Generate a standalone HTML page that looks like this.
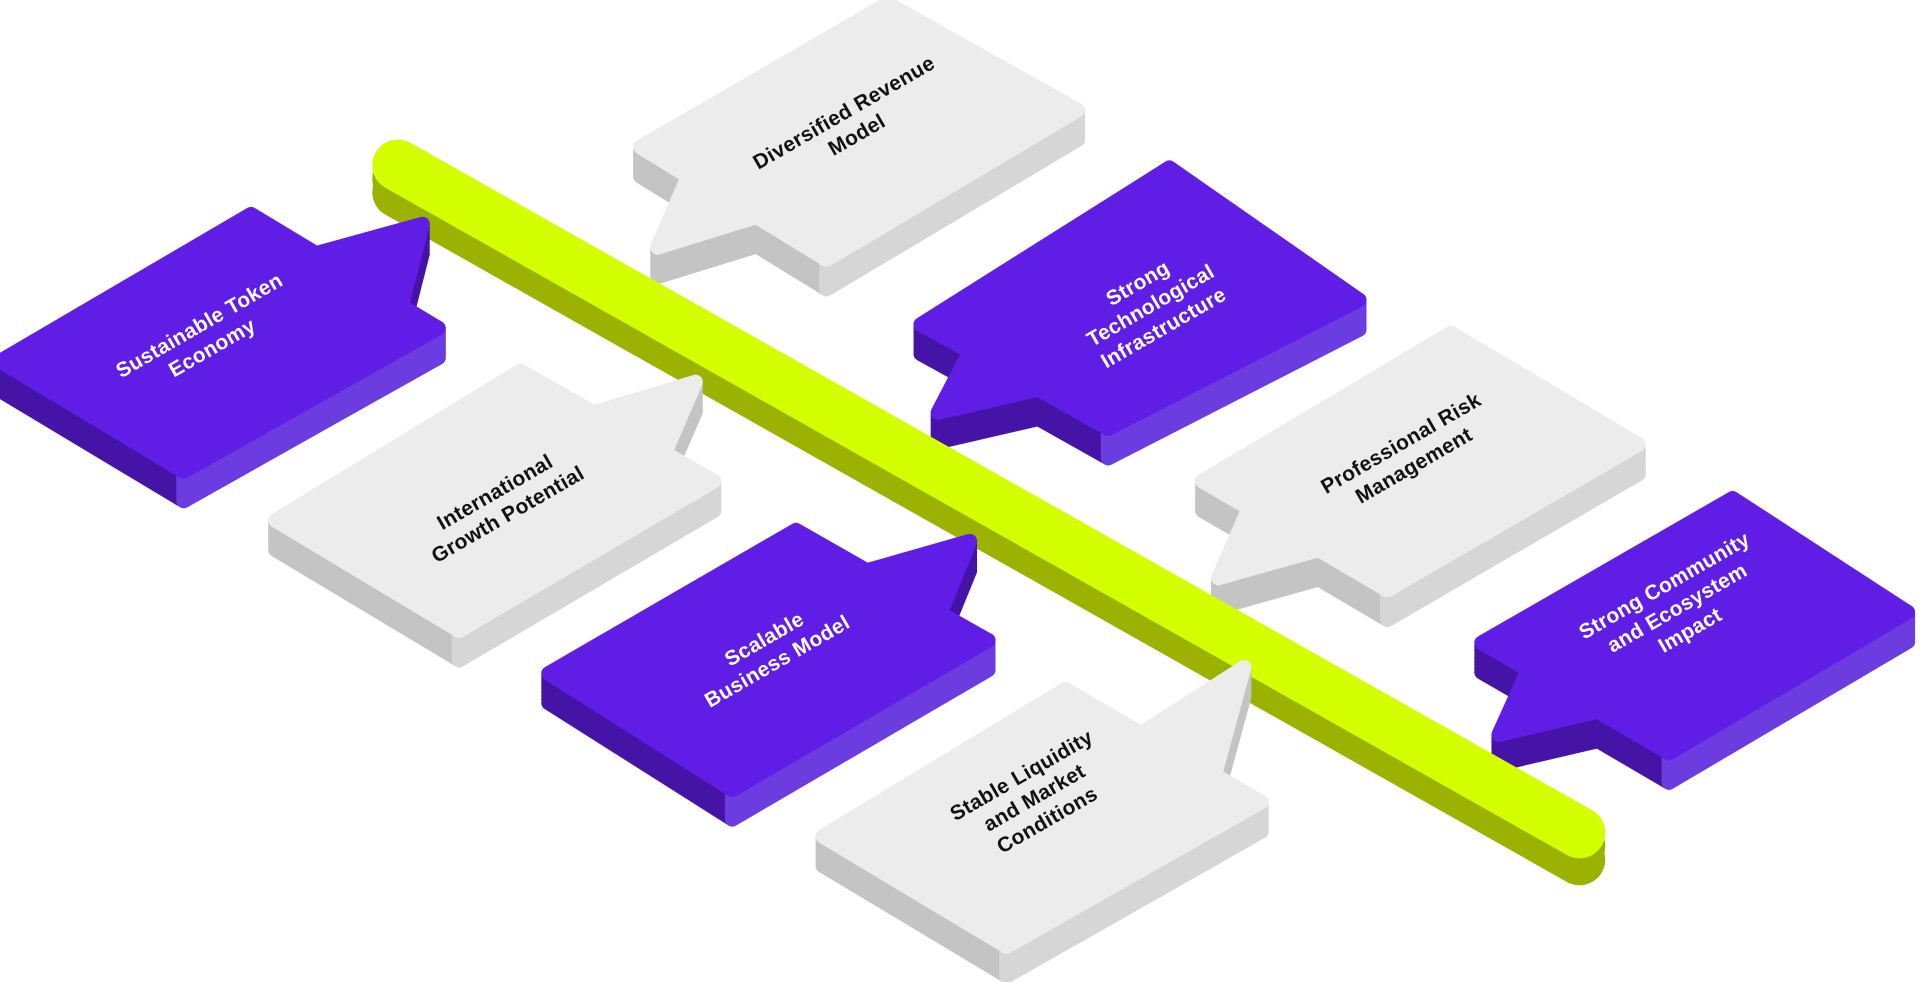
<!DOCTYPE html>
<html><head><meta charset="utf-8"><style>
html,body{margin:0;padding:0;background:#fff;width:1920px;height:982px;overflow:hidden}
svg{display:block}
text{font-family:"Liberation Sans",sans-serif;font-weight:bold;font-size:17px;letter-spacing:0.3px}
</style></head><body>
<svg width="1920" height="982" viewBox="0 0 1568 802" xmlns="http://www.w3.org/2000/svg">
<defs>
<polygon id="b1" points="0,295 205,175 258,207 345,183 328,250 358,268 150,385"/>
<polygon id="b2" points="225,425 425,303 485,337 568,312 543,370 583,393 375,515"/>
<polygon id="b3" points="448,550 650,433 708,466 792,442 768,501 807,523 598,645"/>
<polygon id="b4" points="672,683 870,563 932,599 1016,545 992,633 1030,655 822,773"/>
<polygon id="b5" points="523,120 562,144 537,202 618,177 675,212 880,90 725,3"/>
<polygon id="b6" points="752,265 792,287 766,337 848,318 905,350 1110,245 955,137"/>
<polygon id="b7" points="982,393 1020,415 995,472 1077,449 1133,482 1338,363 1185,272"/>
<polygon id="b8" points="1210,525 1248,547 1224,600 1305,581 1363,615 1558,500 1415,407"/>
<g id="sg"><use href="#S" y="24"/></g>
</defs>

<g stroke-linejoin="round" stroke-width="12">
<g fill="#c4c4c4" stroke="#c4c4c4"><use href="#b5" y="24"/><use href="#b5" y="21"/><use href="#b5" y="18"/><use href="#b5" y="15"/><use href="#b5" y="12"/><use href="#b5" y="9"/><use href="#b5" y="6"/><use href="#b5" y="3"/></g>
<polygon points="675,212 880,90 880,114 675,236" fill="#d6d6d6" stroke="#d6d6d6"/>
<use href="#b5" fill="#ececec" stroke="#ececec"/>

<g fill="#4514a6" stroke="#4514a6"><use href="#b6" y="24"/><use href="#b6" y="21"/><use href="#b6" y="18"/><use href="#b6" y="15"/><use href="#b6" y="12"/><use href="#b6" y="9"/><use href="#b6" y="6"/><use href="#b6" y="3"/></g>
<polygon points="905,350 1110,245 1110,269 905,374" fill="#6b3de0" stroke="#6b3de0"/>
<use href="#b6" fill="#5f1de6" stroke="#5f1de6"/>

<g fill="#c4c4c4" stroke="#c4c4c4"><use href="#b7" y="24"/><use href="#b7" y="21"/><use href="#b7" y="18"/><use href="#b7" y="15"/><use href="#b7" y="12"/><use href="#b7" y="9"/><use href="#b7" y="6"/><use href="#b7" y="3"/></g>
<polygon points="1133,482 1338,363 1338,387 1133,506" fill="#d6d6d6" stroke="#d6d6d6"/>
<use href="#b7" fill="#ececec" stroke="#ececec"/>

<g fill="#4514a6" stroke="#4514a6"><use href="#b8" y="24"/><use href="#b8" y="21"/><use href="#b8" y="18"/><use href="#b8" y="15"/><use href="#b8" y="12"/><use href="#b8" y="9"/><use href="#b8" y="6"/><use href="#b8" y="3"/></g>
<polygon points="1363,615 1558,500 1558,524 1363,639" fill="#6b3de0" stroke="#6b3de0"/>
<use href="#b8" fill="#5f1de6" stroke="#5f1de6"/>
</g>

<g stroke-linecap="round" fill="none">
<line x1="325" y1="157" x2="1290" y2="702" stroke="#9bb300" stroke-width="42"/>
<line x1="325" y1="146" x2="1290" y2="691" stroke="#9bb300" stroke-width="42"/>
<line x1="325" y1="135" x2="1290" y2="680" stroke="#d4ff00" stroke-width="42"/>
</g>

<g stroke-linejoin="round" stroke-width="12">
<g fill="#4514a6" stroke="#4514a6"><use href="#b1" y="24"/><use href="#b1" y="21"/><use href="#b1" y="18"/><use href="#b1" y="15"/><use href="#b1" y="12"/><use href="#b1" y="9"/><use href="#b1" y="6"/><use href="#b1" y="3"/></g>
<polygon points="150,385 358,268 358,292 150,409" fill="#6b3de0" stroke="#6b3de0"/>
<use href="#b1" fill="#5f1de6" stroke="#5f1de6"/>

<g fill="#c4c4c4" stroke="#c4c4c4"><use href="#b2" y="24"/><use href="#b2" y="21"/><use href="#b2" y="18"/><use href="#b2" y="15"/><use href="#b2" y="12"/><use href="#b2" y="9"/><use href="#b2" y="6"/><use href="#b2" y="3"/></g>
<polygon points="375,515 583,393 583,417 375,539" fill="#d6d6d6" stroke="#d6d6d6"/>
<use href="#b2" fill="#ececec" stroke="#ececec"/>

<g fill="#4514a6" stroke="#4514a6"><use href="#b3" y="24"/><use href="#b3" y="21"/><use href="#b3" y="18"/><use href="#b3" y="15"/><use href="#b3" y="12"/><use href="#b3" y="9"/><use href="#b3" y="6"/><use href="#b3" y="3"/></g>
<polygon points="598,645 807,523 807,547 598,669" fill="#6b3de0" stroke="#6b3de0"/>
<use href="#b3" fill="#5f1de6" stroke="#5f1de6"/>

<g fill="#c4c4c4" stroke="#c4c4c4"><use href="#b4" y="24"/><use href="#b4" y="21"/><use href="#b4" y="18"/><use href="#b4" y="15"/><use href="#b4" y="12"/><use href="#b4" y="9"/><use href="#b4" y="6"/><use href="#b4" y="3"/></g>
<polygon points="822,773 1030,655 1030,679 822,797" fill="#d6d6d6" stroke="#d6d6d6"/>
<use href="#b4" fill="#ececec" stroke="#ececec"/>
</g>

<g text-anchor="middle">
<text fill="#fff" transform="rotate(-30 168 275)"><tspan x="168" y="270">Sustainable Token</tspan><tspan x="168" y="291">Economy</tspan></text>
<text fill="#111" transform="rotate(-30 410 412)"><tspan x="410" y="406">International</tspan><tspan x="410" y="427">Growth Potential</tspan></text>
<text fill="#fff" transform="rotate(-30 630 532)"><tspan x="630" y="526">Scalable</tspan><tspan x="630" y="547">Business Model</tspan></text>
<text fill="#111" transform="rotate(-30 845 652)"><tspan x="845" y="636">Stable Liquidity</tspan><tspan x="845" y="657">and Market</tspan><tspan x="845" y="678">Conditions</tspan></text>
<text fill="#111" transform="rotate(-30 695 102)"><tspan x="695" y="96">Diversified Revenue</tspan><tspan x="695" y="117">Model</tspan></text>
<text fill="#fff" transform="rotate(-30 940 250)"><tspan x="940" y="234">Strong</tspan><tspan x="940" y="255">Technological</tspan><tspan x="940" y="276">Infrastructure</tspan></text>
<text fill="#111" transform="rotate(-30 1150 372)"><tspan x="1150" y="366">Professional Risk</tspan><tspan x="1150" y="387">Management</tspan></text>
<text fill="#fff" transform="rotate(-30 1370 497)"><tspan x="1370" y="481">Strong Community</tspan><tspan x="1370" y="502">and Ecosystem</tspan><tspan x="1370" y="523">Impact</tspan></text>
</g>
</svg>
</body></html>
